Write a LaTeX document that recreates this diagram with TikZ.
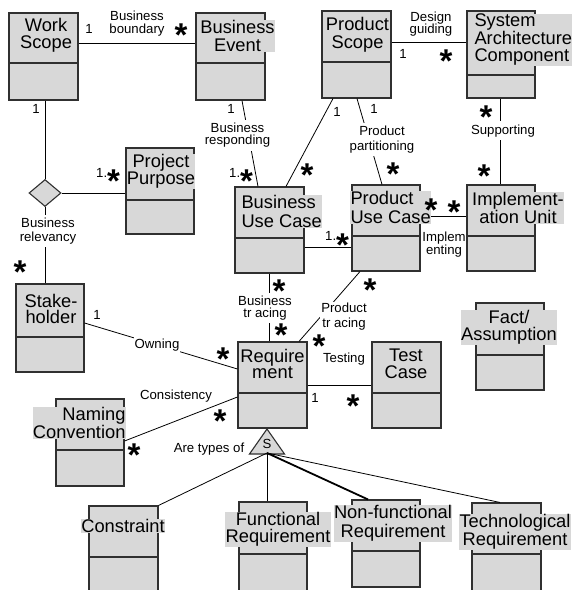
\documentclass[tikz,border=0pt]{standalone}
\usepackage{fontspec}
\setmainfont{Liberation Sans}
\usetikzlibrary{shapes.geometric}
\definecolor{boxgray}{HTML}{D8D8D8}
\definecolor{edgegray}{HTML}{303030}
\newcommand\st{{\fontsize{33}{33}\selectfont\bfseries\raisebox{-19pt}{*}}}
\newcommand\ubox[6]{%
  \node[cls, minimum width={#4-#2}, minimum height={#5-#3}] (#1) at ({(#2+#4)/2},{(#3+#5)/2}) {};
  \draw[cdiv] (#1.west |- 0,#6) -- (#1.east |- 0,#6);
}
\newcommand\mult[3]{\node[mult] (#1) at (#2,#3) {\st};}
\begin{document}
\begin{tikzpicture}[x=1pt,y=-1pt,
  cls/.style={draw=edgegray, line width=1.1pt, fill=boxgray, rectangle, inner sep=0},
  cdiv/.style={draw=edgegray, line width=1.1pt},
  ctext/.style={font=\fontsize{18.3}{18}\selectfont, fill=boxgray, inner sep=0.3pt, align=center},
  bskip/.style={font=\fontsize{18.3}{#1}\selectfont},
  lab/.style={font=\fontsize{13.2}{12.8}\selectfont, inner sep=0, align=center},
  lskip/.style={font=\fontsize{13.2}{#1}\selectfont},
  wlab/.style={lab, fill=white, inner xsep=1pt, inner ysep=3pt},
  conn/.style={draw=black, line width=0.8pt},
  mult/.style={anchor=base, inner sep=0}
]
\useasboundingbox (0,0) rectangle (573,590);
\clip (0,0) rectangle (573,590);

% ---------- classes ----------
\ubox{ws}{9}{13}{78}{100}{63}
\ubox{be}{196}{13}{265}{100}{63}
\ubox{ps}{322}{11}{391}{98}{62}
\ubox{sac}{467}{11}{535}{98}{75}
\ubox{pp}{126}{148}{194}{234}{200}
\ubox{sh}{16}{284}{84}{372}{337}
\ubox{buc}{235}{187}{304}{273}{238}
\ubox{puc}{352}{185}{420}{271}{236}
\ubox{iu}{467}{185}{535}{271}{236}
\ubox{fa}{476}{303}{544}{390}{355}
\ubox{req}{238}{342}{307}{428}{393}
\ubox{tc}{372}{342}{441}{428}{393}
\ubox{nc}{56}{399}{124}{486}{450}
\ubox{con}{89}{506}{158}{600}{557}
\ubox{fr}{239}{502}{307}{600}{554}
\ubox{nfr}{352}{500}{420}{587}{551}
\ubox{tr}{472}{503}{541}{600}{554}

\node[diamond, draw=edgegray, fill=boxgray, line width=1.1pt, minimum width=32, minimum height=27, inner sep=0] (dia) at (45,193) {};

\coordinate (triA) at (267,429);
\coordinate (triB) at (267,453);
\draw[draw=edgegray, fill=boxgray, line width=1.1pt] (triA) -- (284.5,454) -- (249.5,454) -- cycle;

% ---------- connectors ----------
\draw[conn] (ws.east |- 0,43) -- (be.west |- 0,43);
\draw[conn] (ws.south -| dia.north) -- (dia.north);
\draw[conn] (dia.east) -- (pp.west |- dia.east);
\draw[conn] (dia.south) -- (sh.north -| dia.south);
\draw[conn] (be.south -| 242,0) -- (buc.north -| 258,0);
\draw[conn] (ps.south -| 333,0) -- (buc.north -| 286,0);
\draw[conn] (ps.south -| 357,0) -- (puc.north -| 382,0);
\draw[conn] (ps.east |- 0,42) -- (sac.west |- 0,42);
\draw[conn] (sac.south -| 500,0) -- (iu.north -| 500,0);
\draw[conn] (puc.east |- 0,216) -- (iu.west |- 0,216);
\draw[conn] (buc.east |- 0,247) -- (puc.west |- 0,247);
\draw[conn] (buc.south -| 269,0) -- (req.north -| 269,0);
\draw[conn] (puc.south -| 360,0) -- (req.north -| 299,0);
\draw[conn] (sh.east |- 0,323) -- (req.west |- 0,369);
\draw[conn] (nc.east |- 0,441) -- (req.west |- 0,397);
\draw[conn] (req.east |- 0,385) -- (tc.west |- 0,385);
\draw[conn] (triB) -- (con.north east);
\draw[conn] (triB) -- (fr.north -| triB);
\draw[conn, line width=1.8pt] (triB) -- (nfr.north -| 368,0);
\draw[conn] (triB) -- (tr.north -| 500,0);

% ---------- class names ----------
\node[ctext, bskip=17, anchor=north] (t-ws) at (46,17.7) {Work\\Scope};
\node[ctext, anchor=north] (t-be) at (237.5,19.7) {Business\\Event};
\node[ctext, anchor=north] (t-ps) at (357.5,16.7) {Product\\Scope};
\node[ctext, bskip=17.5, anchor=north west, align=left] (t-sac) at (474,13.7) {System\\Architecture\\Component};
\node[ctext, bskip=17, anchor=north] (t-pp) at (161,153.7) {Project\\Purpose};
\node[ctext, bskip=16.5, anchor=north] (t-sh) at (51,293.7) {Stake-\\holder};
\node[ctext, bskip=19, anchor=north west, align=left] (t-buc) at (241,194.7) {Business\\Use Case};
\node[ctext, bskip=19, anchor=north west, align=left] (t-puc) at (350,190.7) {Product\\Use Case};
\node[ctext, anchor=north] (t-iu) at (518,191.7) {Implement-\\ation Unit};
\node[ctext, bskip=17, anchor=north] (t-fa) at (509,309.7) {Fact/\\Assumption};
\node[ctext, bskip=16, anchor=north] (t-req) at (272.5,348.7) {Require\\ment};
\node[ctext, bskip=17, anchor=north] (t-tc) at (406,348.7) {Test\\Case};
\node[ctext, bskip=17, anchor=north east, align=right] (t-nc) at (126,406.7) {Naming\\Convention};
\node[ctext, anchor=north] (t-con) at (123,518.7) {Constraint};
\node[ctext, bskip=17, anchor=north] (t-fr) at (278,511.7) {Functional\\Requirement};
\node[ctext, bskip=19, anchor=north] (t-nfr) at (393,504.7) {Non-functional\\Requirement};
\node[ctext, bskip=16, anchor=north] (t-tr) at (515,513.7) {Technological\\Requirement};

% ---------- association labels ----------
\node[lab, anchor=north] (l-bb) at (137,11.1) {Business\\boundary};
\node[lab, anchor=base] (m1) at (89,33) {1};
\mult{m2}{181}{27}
\node[lab, anchor=base] (m3) at (36,113) {1};
\node[lab, anchor=base west] (m4) at (96,177) {1.\raisebox{4pt}{\st}};
\node[wlab, lskip=14, anchor=north] (l-brel) at (48,214.4) {Business\\relevancy};
\mult{m5}{20}{264}
\node[lab, anchor=base] (m6) at (231,113) {1};
\node[wlab, anchor=north] (l-bresp) at (237.5,119.4) {Business\\responding};
\node[lab, anchor=base west] (m7) at (229,177) {1.\raisebox{4pt}{\st}};
\node[lab, anchor=base] (m8) at (337,116) {1};
\mult{m9}{307}{167}
\node[lab, anchor=base] (m10) at (374,113) {1};
\node[wlab, lskip=15, anchor=north] (l-ppart) at (382,122.4) {Product\\partitioning};
\mult{m11}{393}{166}
\node[lab, anchor=north] (l-dg) at (431,11.4) {Design\\guiding};
\node[lab, anchor=base] (m12) at (403,58) {1};
\mult{m13}{446}{53}
\mult{m14}{486}{109}
\node[wlab, anchor=base] (l-sup) at (503,134) {Supporting};
\mult{m15}{484}{168}
\mult{m16}{431}{202}
\mult{m17}{454}{204}
\node[lab, lskip=12, anchor=north] (l-impl) at (444,231.4) {Implem\\enting};
\node[lab, anchor=base west] (m18) at (325,240) {1.\raisebox{3pt}{\st}};
\mult{m19}{279}{283}
\node[wlab, lskip=12, anchor=north] (l-bt) at (265,292.4) {Business\\tr acing};
\mult{m20}{281}{327}
\mult{m21}{370}{282}
\node[wlab, lskip=15, inner ysep=1pt, anchor=north] (l-pt) at (344,301.4) {Product\\tr acing};
\mult{m22}{319}{338}
\node[lab, anchor=base] (m23) at (97,319) {1};
\node[wlab, anchor=base] (l-own) at (157,348) {Owning};
\mult{m24}{223}{351}
\node[lab, anchor=base] (l-cons) at (176,399) {Consistency};
\mult{m25}{220}{413}
\mult{m26}{134}{447}
\node[lab, anchor=base] (l-test) at (344,362) {Testing};
\node[lab, anchor=base] (m27) at (315,402) {1};
\mult{m28}{353}{398}
\node[lab, anchor=base] (l-types) at (209,452) {Are types of};
\node[lab, anchor=base] (l-s) at (267,448) {S};
\end{tikzpicture}
\end{document}
